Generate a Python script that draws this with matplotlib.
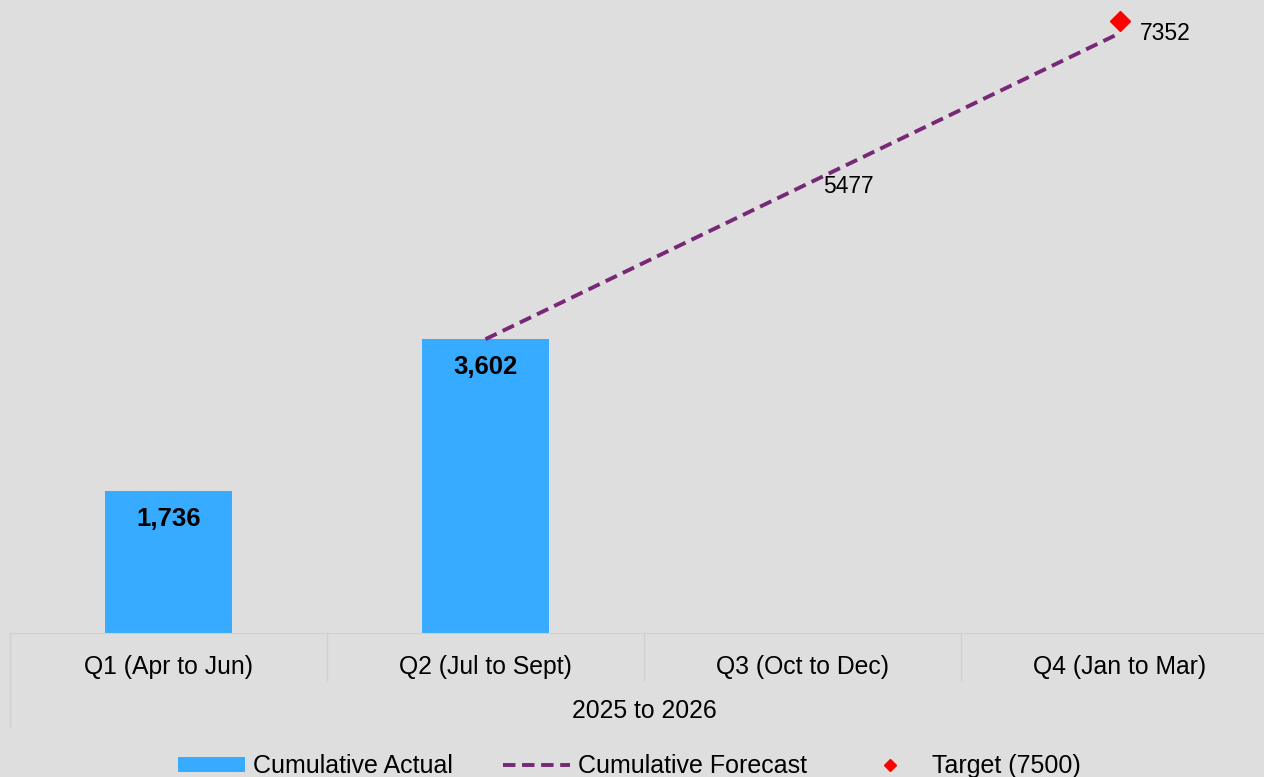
import matplotlib
matplotlib.use('Agg')
import matplotlib.pyplot as plt
from matplotlib.transforms import blended_transform_factory

# Data
quarters = ['Q1 (Apr to Jun)', 'Q2 (Jul to Sept)', 'Q3 (Oct to Dec)', 'Q4 (Jan to Mar)']
actual = [1736, 3602]
forecast = [3602, 5477, 7352]
forecast_idx = [1, 2, 3]
target_value = 7500
target_idx = 3
group_label = '2025 to 2026'

bg = '#dedede'
grid_col = '#d0d0d0'
plt.rcParams['font.family'] = ['Liberation Sans', 'DejaVu Sans']

fig = plt.figure(figsize=(12.64, 7.77), dpi=100, facecolor=bg)
ax = fig.add_axes([10 / 1264, 144 / 777, 1268 / 1264, 633 / 777])
ax.set_facecolor(bg)

# Bars
bars = ax.bar(range(len(actual)), actual, width=0.4, color='#36abff',
              label='Cumulative Actual', zorder=2)
for b, v in zip(bars, actual):
    ax.annotate(f'{v:,}', (b.get_x() + b.get_width() / 2, v),
                xytext=(0, -20), textcoords='offset points',
                ha='center', va='center', fontsize=18.5, fontweight='bold')

# Forecast line
ln, = ax.plot(forecast_idx, forecast, color='#772877', lw=2.8, ls=(0, (3.2, 1.7)),
              label='Cumulative Forecast', zorder=3, clip_on=False)
for x, v in zip(forecast_idx[1:], forecast[1:]):
    ax.annotate(str(v), (x, v), xytext=(15, 0), textcoords='offset points',
                ha='left', va='center', fontsize=16.5)

# Target
tg, = ax.plot([target_idx], [target_value], ls='none', marker='D', ms=10,
              color='#ff0000', label='Target (7500)', zorder=4, clip_on=False)

ax.set_xlim(-0.5, 3.5)
ax.set_ylim(0, 7760)
ax.set_yticks([])
ax.set_xticks(range(len(quarters)))
ax.set_xticklabels(quarters, fontsize=17.8)
ax.tick_params(axis='x', length=0, pad=16)
for s in ['top', 'right', 'left']:
    ax.spines[s].set_visible(False)
ax.spines['bottom'].set_color(grid_col)

# category separators and group label
tr = blended_transform_factory(ax.transData, ax.transAxes)
for i in range(len(quarters) + 1):
    x = i - 0.5
    bottom = -0.1485 if i in (0, len(quarters)) else -0.0742
    ax.plot([x, x], [0, bottom], color=grid_col, lw=1, transform=tr, clip_on=False)
ax.text(1.5, -0.1232, group_label, transform=tr, ha='center', va='center',
        fontsize=17.8)

# Legend
fig.legend(handles=[bars, ln, tg], loc='center', bbox_to_anchor=(629 / 1264, 11 / 777),
           ncol=3, frameon=False, fontsize=18, handlelength=2.7, handleheight=0.55,
           handletextpad=0.3, columnspacing=2.0, markerscale=0.65, borderpad=0)

fig.savefig('out.png', dpi=100, facecolor=bg)
